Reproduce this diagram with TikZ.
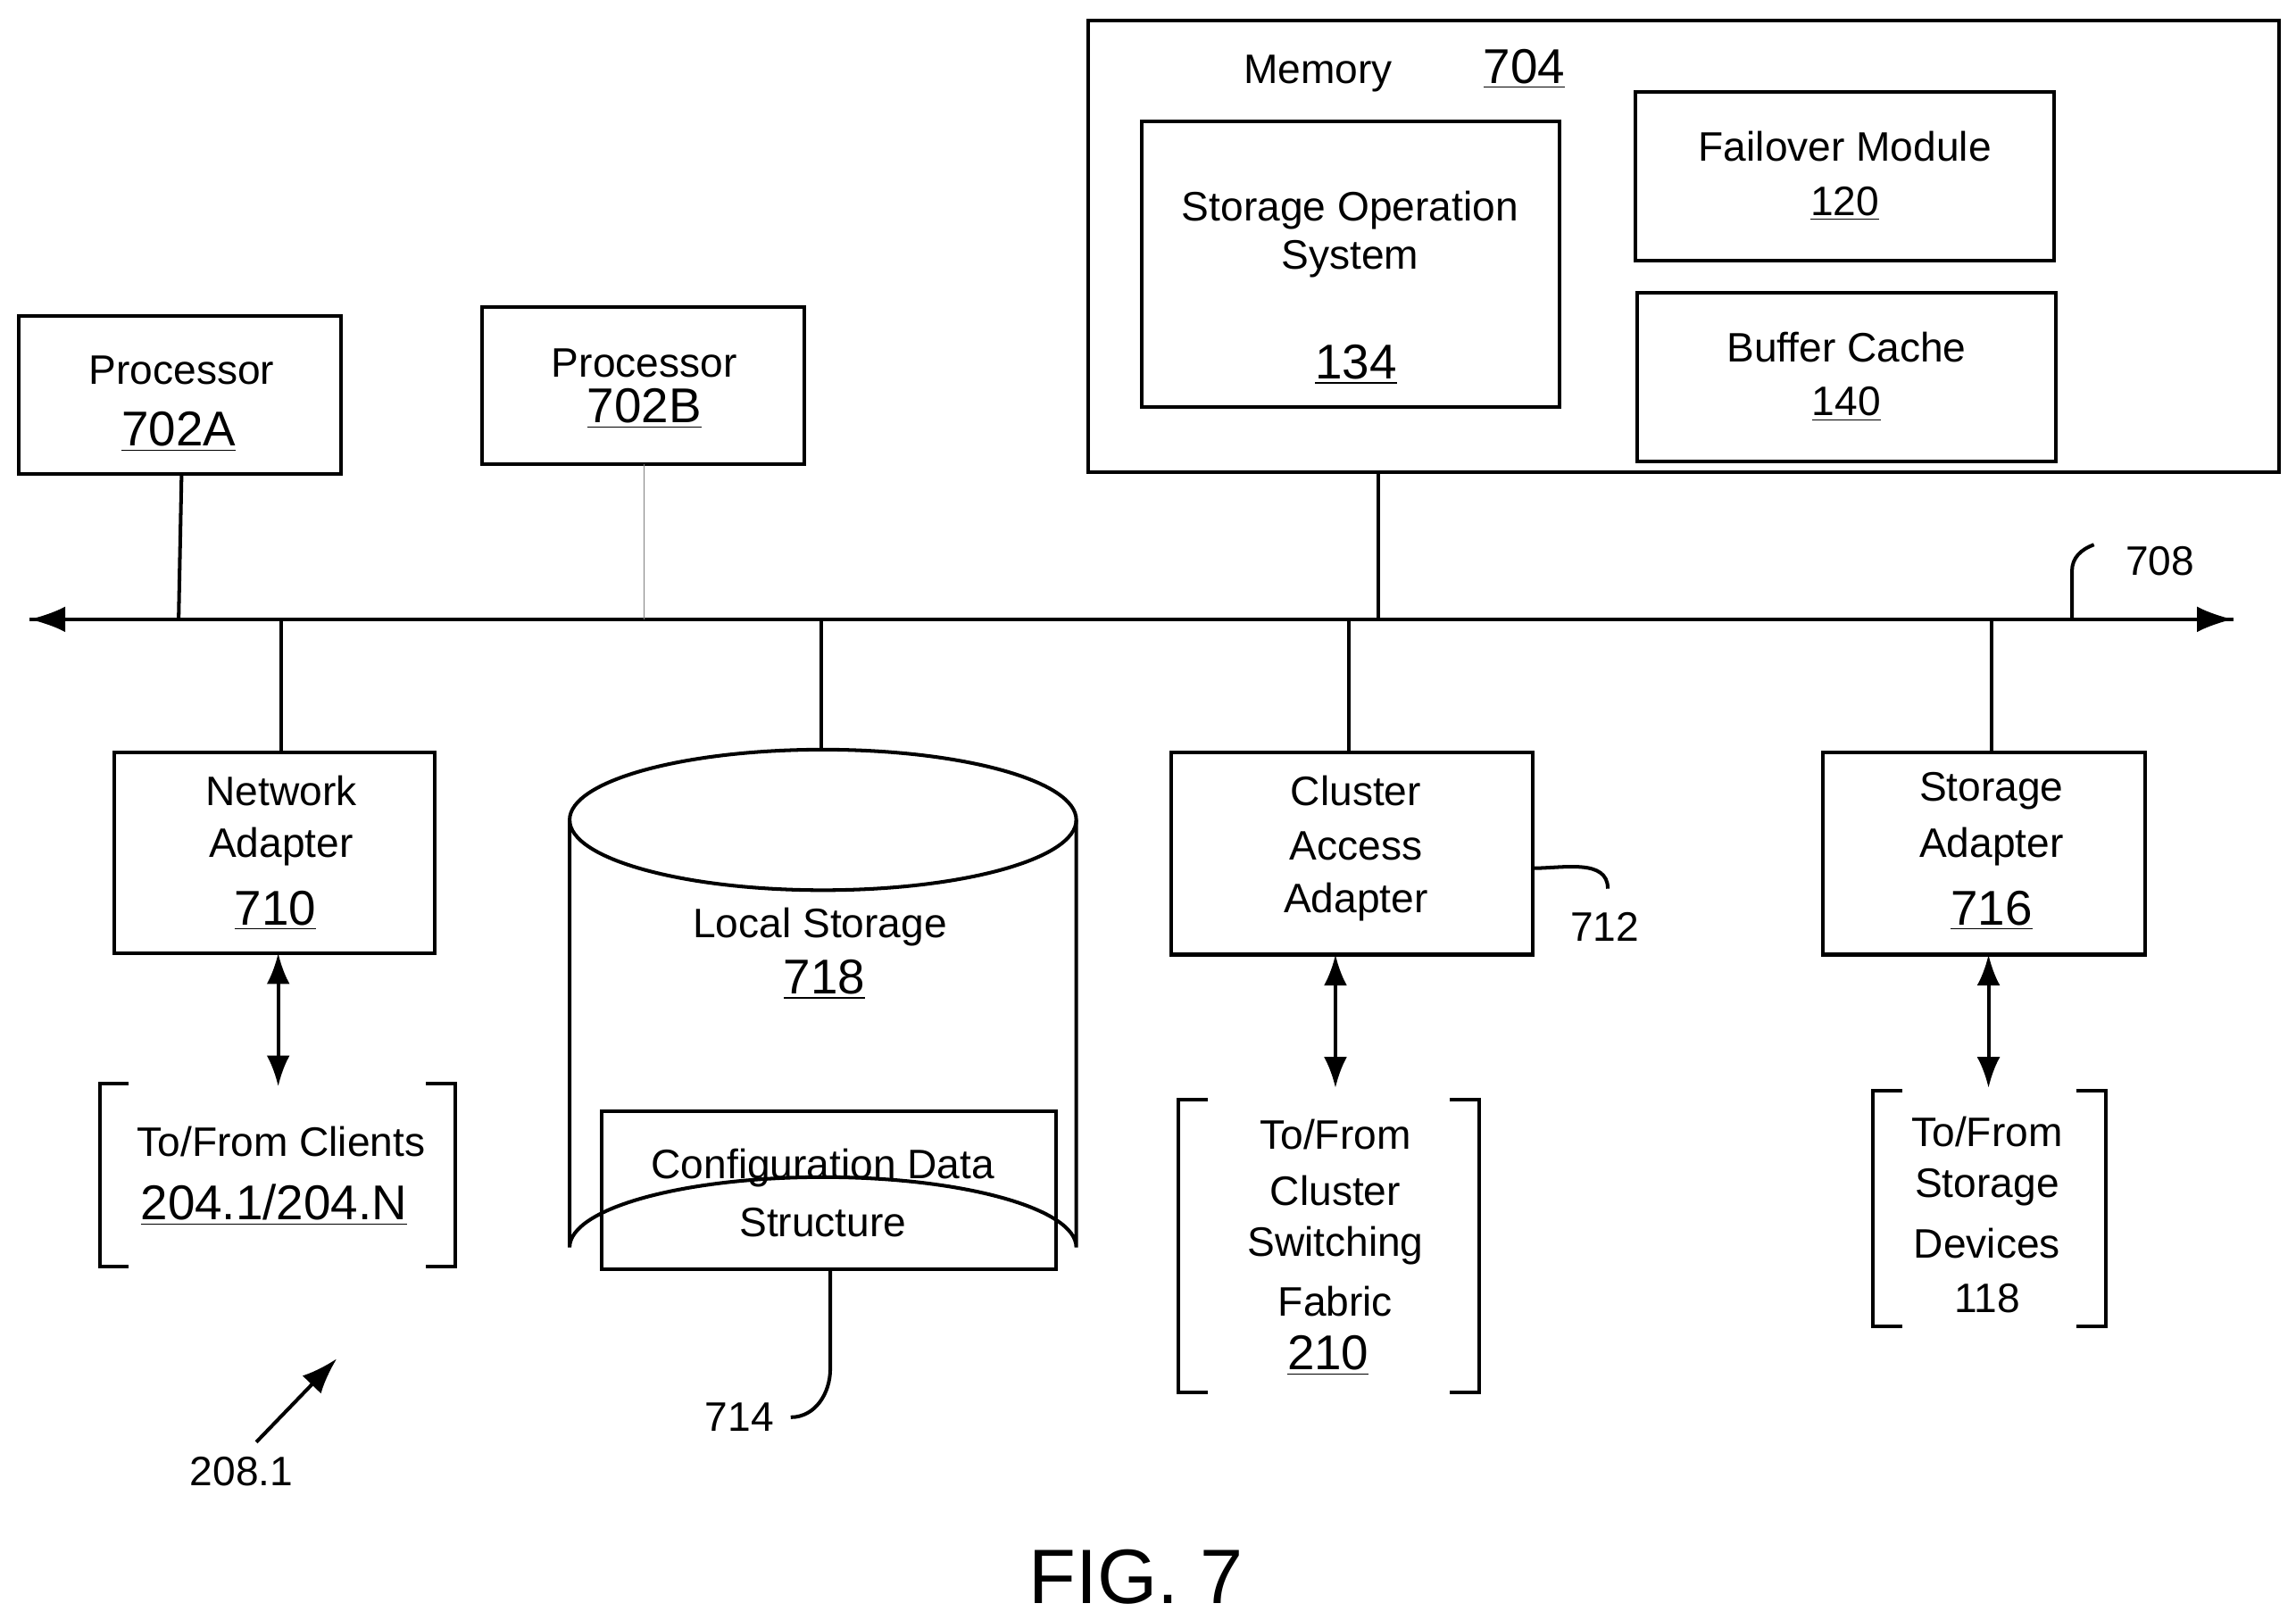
\documentclass[tikz,border=0pt]{standalone}
\usepackage{fontspec}
\setmainfont{Liberation Sans}
\usetikzlibrary{arrows.meta}
\begin{document}
\begin{tikzpicture}[x=0.02cm,y=-0.02cm,line width=1.4pt,
  box/.style={draw,line width=1.4pt},
  t/.style={font=\fontsize{16}{19}\selectfont,inner sep=0pt,anchor=center},
  n/.style={font=\fontsize{19}{22}\selectfont,inner sep=0pt,anchor=center},
  tip/.style={-{Latex[length=14pt,width=10pt]}},
  dtip/.style={{Latex[length=12pt,width=9pt]}-{Latex[length=12pt,width=9pt]}}]
\useasboundingbox (0,0) rectangle (1568,1106);
% memory
\node[box,minimum width=813*0.02cm,minimum height=308*0.02cm,anchor=north west] (mem) at (742,13) {};
\node[t] (memt) at (900,50) {Memory};
\node[n] (memn) at (1041,47) {\underline{704}};
\draw (780,83) rectangle (1065,278); \node (sos) at (922,180) {};
\node[t,align=center] (sost) at (922,160) {Storage Operation\\System};
\node[n] (sosn) at (926,249) {\underline{134}};
\draw (1117,63) rectangle (1403,178);
\node[t] (fm) at (1260,100) {Failover Module};
\node[t] (fmn) at (1260,139) {\underline{120}};
\draw (1118,200) rectangle (1404,315);
\node[t] (bc) at (1261,237) {Buffer Cache};
\node[t] (bcn) at (1261,276) {\underline{140}};
% processors
\draw (13,216) rectangle (233,324);
\node[t] (pa) at (124,253) {Processor};
\node[n] (pan) at (122,295) {\underline{702A}};
\draw (329,210) rectangle (549,317);
\node[t] (pb) at (440,248) {Processor};
\node[n] (pbn) at (440,279) {\underline{702B}};
% bus
\coordinate (bl) at (20,423); \coordinate (br) at (1525,423);
\draw[tip] (bl) -- (br);
\draw[tip] (br) -- (bl);
\draw (124,324) -- (122,423);
\draw[line width=0.5pt,gray] (440,317) -- (440,423);
\draw (941,321) -- (941,423);
\draw (1415,423) -- (1415,390) to[out=90,in=200] (1430,372);
\node[t] (l708) at (1475,383) {708};
\draw (192,423) -- (192,514);
\draw (561,423) -- (561,512);
\draw (921,423) -- (921,514);
\draw (1360,423) -- (1360,514);
% network adapter
\draw (78,514) rectangle (297,651);
\node[t] (na1) at (192,540) {Network};
\node[t] (na2) at (192,578) {Adapter};
\node[n] (na3) at (188,622) {\underline{710}};
% cylinder
\draw (389,560) -- (389,852) arc[start angle=180,end angle=360,x radius=173,y radius=48] -- (735,560);
\draw (562,560) ellipse[x radius=173,y radius=48];
\node[t] (ls) at (560,633) {Local Storage};
\node[n] (lsn) at (563,669) {\underline{718}};
\draw (411,759) rectangle (721,867);
\node[t] (cd1) at (562,798) {Configuration Data};
\node[t] (cd2) at (562,835) {Structure};
\draw (567,867) -- (567,935) to[out=-90,in=0] (540,968);
\node[t] (l714) at (505,968) {714};
% cluster access
\draw (800,514) rectangle (1047,652);
\node[t] (ca1) at (926,540) {Cluster};
\node[t] (ca2) at (926,578) {Access};
\node[t] (ca3) at (926,616) {Adapter};
\draw (1047,593) to[out=0,in=90] (1098,607);
\node[t] (l712) at (1096,633) {712};
% storage adapter
\draw (1245,514) rectangle (1465,652);
\node[t] (sa1) at (1360,540) {Storage};
\node[t] (sa2) at (1360,578) {Adapter};
\node[n] (sa3) at (1360,622) {\underline{716}};
% double arrows
\draw[dtip] (190,651) -- (190,742);
\draw[dtip] (912,652) -- (912,743);
\draw[dtip] (1358,652) -- (1358,743);
% brackets
\draw (88,740) -- (68,740) -- (68,865) -- (88,865);
\draw (291,740) -- (311,740) -- (311,865) -- (291,865);
\node[t] (c1) at (192,780) {To/From Clients};
\node[n] (c2) at (187,823) {\underline{204.1/204.N}};
\draw (825,751) -- (805,751) -- (805,951) -- (825,951);
\draw (990,751) -- (1010,751) -- (1010,951) -- (990,951);
\node[t] (f1) at (912,775) {To/From};
\node[t] (f2) at (912,813) {Cluster};
\node[t] (f3) at (912,851) {Switching};
\node[t] (f4) at (912,889) {Fabric};
\node[n] (f5) at (907,926) {\underline{210}};
\draw (1299,745) -- (1279,745) -- (1279,906) -- (1299,906);
\draw (1418,745) -- (1438,745) -- (1438,906) -- (1418,906);
\node[t] (s1) at (1357,773) {To/From};
\node[t] (s2) at (1357,811) {Storage};
\node[t] (s3) at (1357,849) {Devices};
\node[t] (s4) at (1357,887) {118};
% 208.1
\draw[tip] (175,985) -- (230,928);
\node[t] (l208) at (165,1005) {208.1};
\node[font=\fontsize{30}{34}\selectfont,inner sep=0pt] (fig) at (776,1077) {FIG. 7};
\end{tikzpicture}
\end{document}
